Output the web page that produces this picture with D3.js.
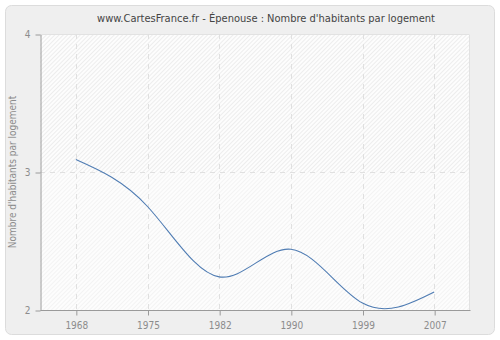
<!DOCTYPE html>
<html>
<head>
<meta charset="utf-8">
<script src="https://cdn.jsdelivr.net/npm/d3@7"></script>
<style>
  html, body { margin: 0; padding: 0; background: #ffffff; }
  svg { display: block; }
  text { font-family: "DejaVu Sans Condensed", "DejaVu Sans", sans-serif; font-stretch: condensed; }
</style>
</head>
<body>
<svg id="chart" width="500" height="340"></svg>
<script>
// Census years and average number of inhabitants per dwelling
const years = ["1968", "1975", "1982", "1990", "1999", "2007"];
const values = [3.09, 2.75, 2.24, 2.44, 2.05, 2.13];
const yTicks = [2, 3, 4];
const title = "www.CartesFrance.fr - Épenouse : Nombre d'habitants par logement";
const yLabel = "Nombre d'habitants par logement";

const W = 500, H = 340;
const plot = { left: 40, right: 470, top: 34, bottom: 310 };
const FONT = "\"DejaVu Sans Condensed\", \"DejaVu Sans\", sans-serif";

const svg = d3.select("#chart");

// Outer panel
svg.append("rect")
  .attr("x", 5.5).attr("y", 5.5)
  .attr("width", W - 11).attr("height", H - 11)
  .attr("rx", 6).attr("ry", 6)
  .attr("fill", "#efefef")
  .attr("stroke", "#dcdcdc");

// Hatched fills for the plot background
const defs = svg.append("defs");
function hatch(id, bg, line) {
  const p = defs.append("pattern")
    .attr("id", id)
    .attr("patternUnits", "userSpaceOnUse")
    .attr("width", 3).attr("height", 3)
    .attr("patternTransform", "rotate(45)");
  p.append("rect").attr("width", 3).attr("height", 3).attr("fill", bg);
  p.append("line").attr("x1", 0.5).attr("y1", 0).attr("x2", 0.5).attr("y2", 3)
    .attr("stroke", line).attr("stroke-width", 0.8);
}
hatch("hatchTop", "#fdfdfd", "#e8e8e8");
hatch("hatchBottom", "#fdfdfd", "#f0f0f0");

const x = d3.scalePoint()
  .domain(years)
  .range([plot.left, plot.right])
  .padding(0.5);

const y = d3.scaleLinear()
  .domain([2, 4])
  .range([plot.bottom, plot.top]);

svg.append("rect")
  .attr("x", plot.left).attr("y", y(4))
  .attr("width", plot.right - plot.left).attr("height", y(3) - y(4))
  .attr("fill", "url(#hatchTop)");
svg.append("rect")
  .attr("x", plot.left).attr("y", y(3))
  .attr("width", plot.right - plot.left).attr("height", y(2) - y(3))
  .attr("fill", "url(#hatchBottom)");

// Plot frame (top and right edges, light)
svg.append("path")
  .attr("d", `M${plot.left},${plot.top + 0.5}H${plot.right - 0.5}V${plot.bottom}`)
  .attr("fill", "none")
  .attr("stroke", "#e2e2e2");

// Dashed grid
const grid = svg.append("g")
  .attr("stroke", "#e0e0e0")
  .attr("stroke-dasharray", "5,5")
  .attr("fill", "none");
years.forEach(yr => {
  grid.append("line")
    .attr("x1", Math.round(x(yr)) + 0.5).attr("x2", Math.round(x(yr)) + 0.5)
    .attr("y1", plot.top).attr("y2", plot.bottom);
});
yTicks.filter(t => t > 2 && t < 4).forEach(t => {
  grid.append("line")
    .attr("x1", plot.left).attr("x2", plot.right)
    .attr("y1", Math.round(y(t)) + 0.5).attr("y2", Math.round(y(t)) + 0.5);
});

// Axes
const xAxis = svg.append("g")
  .attr("transform", `translate(0.5,${plot.bottom + 0.5})`)
  .call(d3.axisBottom(x).tickSize(5).tickSizeOuter(0).tickPadding(6)
    .tickFormat(d => d));
xAxis.select(".domain").attr("d", `M${plot.left},0H${plot.right}`);

const yAxis = svg.append("g")
  .attr("transform", `translate(${plot.left + 0.5},0.5)`)
  .call(d3.axisLeft(y).tickValues(yTicks).tickSize(5).tickSizeOuter(0).tickPadding(5)
    .tickFormat(d3.format("d")));

[xAxis, yAxis].forEach(g => {
  g.select(".domain").attr("stroke", "#9a9a9a");
  g.selectAll(".tick line").attr("stroke", "#9a9a9a");
  g.selectAll(".tick text")
    .attr("fill", "#8c8c8c")
    .style("font-size", "10px")
    .style("font-family", FONT);
});

// Data line
const line = d3.line()
  .x((d, i) => x(years[i]))
  .y(d => y(d))
  .curve(d3.curveNatural);

svg.append("path")
  .datum(values)
  .attr("d", line)
  .attr("fill", "none")
  .attr("stroke", "#4f7cb3")
  .attr("stroke-width", 1.1);

// Title
svg.append("text")
  .attr("x", 266).attr("y", 22)
  .attr("text-anchor", "middle")
  .attr("fill", "#444")
  .style("font-size", "11px")
  .style("font-family", FONT)
  .text(title);

// Y axis label
svg.append("text")
  .attr("transform", `translate(16,${(plot.top + plot.bottom) / 2}) rotate(-90)`)
  .attr("text-anchor", "middle")
  .attr("fill", "#8c8c8c")
  .style("font-size", "10px")
  .style("font-family", FONT)
  .text(yLabel);
</script>
</body>
</html>
